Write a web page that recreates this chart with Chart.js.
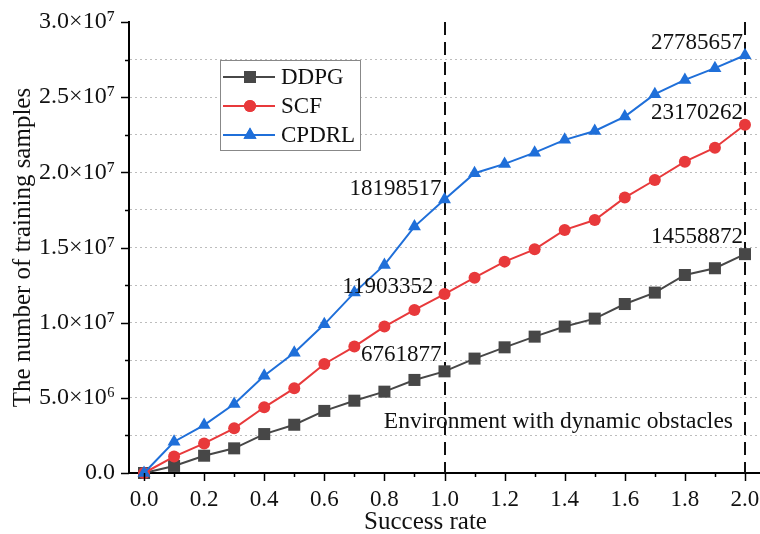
<!DOCTYPE html>
<html><head><meta charset="utf-8">
<script src="https://cdn.jsdelivr.net/npm/chart.js@4.4.0/dist/chart.umd.min.js"></script>
<style>html,body{margin:0;padding:0;background:#fff;overflow:hidden}#wrap{width:760px;height:534px;position:relative}</style>
</head><body><div id="wrap"><canvas id="c"></canvas></div>
<script>
// ---- data ----
const successRate = [0.0,0.1,0.2,0.3,0.4,0.5,0.6,0.7,0.8,0.9,1.0,1.1,1.2,1.3,1.4,1.5,1.6,1.7,1.8,1.9,2.0];
const ddpg  = [0,470000,1150000,1640000,2590000,3210000,4130000,4810000,5410000,6190000,6761877,7610000,8360000,9070000,9740000,10270000,11240000,12000000,13170000,13620000,14558872];
const scf   = [0,1090000,1970000,2970000,4370000,5630000,7250000,8410000,9740000,10850000,11903352,12990000,14060000,14880000,16170000,16830000,18320000,19490000,20710000,21640000,23170262];
const cpdrl = [0,2080000,3190000,4590000,6470000,8000000,9890000,12000000,13840000,16390000,18198517,19940000,20560000,21310000,22160000,22750000,23710000,25200000,26150000,26930000,27785657];
const seriesNames = ['DDPG','SCF','CPDRL'];
const xTickValues = [0.0,0.1,0.2,0.3,0.4,0.5,0.6,0.7,0.8,0.9,1.0,1.1,1.2,1.3,1.4,1.5,1.6,1.7,1.8,1.9,2.0];
const xMajorLabels = ['0.0','0.2','0.4','0.6','0.8','1.0','1.2','1.4','1.6','1.8','2.0'];
const yTickValues = [0,2500000,5000000,7500000,10000000,12500000,15000000,17500000,20000000,22500000,25000000,27500000,30000000];
const yMajorLabels = ['0.0','5.0×10⁶','1.0×10⁷','1.5×10⁷','2.0×10⁷','2.5×10⁷','3.0×10⁷'];
const dividerX = [1.0, 2.0];
const xTitle = 'Success rate';
const yTitle = 'The number of training samples';
const envLabel = 'Environment with dynamic obstacles';

const colors = ['#474747','#e8393b','#1f6fd9'];
const styles = ['rect','circle','triangle'];
const radii = [8.5,6,7.5];
const SERIF = '"Liberation Serif","Times New Roman",serif';

const seriesVals = [ddpg, scf, cpdrl];
const datasets = seriesVals.map((arr,i)=>({
  label: seriesNames[i],
  data: arr.map((v,j)=>({x: successRate[j], y: v})),
  borderColor: colors[i], backgroundColor: colors[i],
  pointBackgroundColor: colors[i], pointBorderColor: colors[i],
  pointStyle: styles[i], pointRadius: radii[i], pointBorderWidth: 0,
  borderWidth: 2, tension: 0, order: 3-i, clip: false
}));

const isMajorX = v => Math.round(v*10) % 2 === 0;
const isMajorY = v => Math.round(v/2500000) % 2 === 0;

const extras = {
  id: 'extras',
  beforeDatasetsDraw(chart){
    const {ctx, chartArea:a, scales:{x}} = chart;
    ctx.save();
    ctx.strokeStyle = '#111'; ctx.lineWidth = 2; ctx.setLineDash([13,7]);
    dividerX.forEach(v=>{
      const px = Math.round(x.getPixelForValue(v));
      ctx.beginPath(); ctx.moveTo(px, a.top); ctx.lineTo(px, a.bottom); ctx.stroke();
    });
    ctx.restore();
  },
  afterDatasetsDraw(chart){
    const {ctx, chartArea:a, scales:{x,y}} = chart;
    ctx.save();
    ctx.fillStyle = '#111';
    ctx.font = '23px ' + SERIF;
    ctx.textAlign = 'right'; ctx.textBaseline = 'middle';
    const last = successRate.length-1, mid = successRate.indexOf(1.0);
    const ann = [
      [cpdrl, last, -2, -12], [scf, last, -2, -12], [ddpg, last, -2, -17],
      [cpdrl, mid, -3, -10], [scf, mid, -11, -7], [ddpg, mid, -3, -16]
    ];
    ann.forEach(([arr, idx, dx, dy])=>{
      const v = arr[idx];
      ctx.fillText(String(v), x.getPixelForValue(successRate[idx])+dx, y.getPixelForValue(v)+dy);
    });
    ctx.font = '23.5px ' + SERIF;
    ctx.fillText(envLabel, x.getPixelForValue(2.0) - 12, y.getPixelForValue(3400000));
    // x-axis title (sits slightly left of the axis centre in the reference)
    ctx.textAlign = 'center';
    ctx.font = '25px ' + SERIF;
    ctx.fillText(xTitle, (a.left + a.right)/2 - 19, 522);
    // axis ticks
    ctx.strokeStyle = '#000'; ctx.lineWidth = 1.5; ctx.setLineDash([]);
    y.ticks.forEach(t=>{
      const py = Math.round(y.getPixelForValue(t.value))+0.5;
      const len = isMajorY(t.value) ? 8 : 4;
      ctx.beginPath(); ctx.moveTo(a.left, py); ctx.lineTo(a.left-len, py); ctx.stroke();
    });
    x.ticks.forEach(t=>{
      const px = Math.round(x.getPixelForValue(t.value))+0.5;
      const len = isMajorX(t.value) ? 8 : 4;
      ctx.beginPath(); ctx.moveTo(px, a.bottom); ctx.lineTo(px, a.bottom+len); ctx.stroke();
    });
    // legend
    const bx = 220, by = 60, bw = 140, bh = 90;
    ctx.fillStyle = '#fff'; ctx.fillRect(bx, by, bw, bh);
    ctx.strokeStyle = '#888'; ctx.lineWidth = 1;
    ctx.strokeRect(bx+0.5, by+0.5, bw, bh);
    ctx.font = '23px ' + SERIF; ctx.textAlign = 'left';
    chart.data.datasets.forEach((ds,i)=>{
      const ly = by + 17 + i*29;
      ctx.strokeStyle = ds.borderColor; ctx.lineWidth = 2;
      ctx.beginPath(); ctx.moveTo(bx+3, ly); ctx.lineTo(bx+55, ly); ctx.stroke();
      ctx.fillStyle = ds.backgroundColor;
      Chart.helpers.drawPoint(ctx, {pointStyle: ds.pointStyle, radius: ds.pointRadius, borderWidth: 0}, bx+30, ly);
      ctx.fill();
      ctx.fillStyle = '#111';
      ctx.fillText(ds.label, bx+61, ly+1);
    });
    ctx.restore();
  }
};

new Chart(document.getElementById('c'), {
  type: 'line',
  data: { datasets },
  plugins: [extras],
  options: {
    responsive: true, maintainAspectRatio: false, animation: false,
    layout: { autoPadding: false, padding: { top: 22, right: 0, left: 0, bottom: 0 } },
    plugins: { legend: { display: false }, tooltip: { enabled: false } },
    scales: {
      x: {
        type: 'linear', min: -0.05, max: 2.05,
        afterBuildTicks: s => { s.ticks = xTickValues.map(v=>({value:v})); },
        afterFit: s => { s.height = 61; s.paddingLeft = 0; s.paddingRight = 0; },
        grid: { display: true, drawOnChartArea: false, drawTicks: true, tickLength: 13, tickColor: 'rgba(0,0,0,0)' },
        border: { display: true, color: '#000', width: 2 },
        ticks: { autoSkip: false, maxRotation: 0, padding: 0, color: '#111',
          font: { family: SERIF, size: 23 },
          callback: (v) => isMajorX(v) ? xMajorLabels[Math.round(v*5)] : '' },
        title: { display: false, text: xTitle }
      },
      y: {
        type: 'linear', min: 0, max: 30000000,
        afterBuildTicks: s => { s.ticks = yTickValues.map(v=>({value:v})); },
        afterFit: s => { s.width = 129; s.paddingTop = 0; s.paddingBottom = 0; },
        grid: { drawTicks: true, tickLength: 14, tickColor: 'rgba(0,0,0,0)',
          color: (c)=> (c.tick && (c.tick.value===0 || c.tick.value===30000000)) ? 'rgba(0,0,0,0)' : '#bdbdbd', lineWidth: 1 },
        border: { display: true, color: '#000', width: 2, dash: [2,3] },
        ticks: { autoSkip: false, padding: 0, color: '#111',
          font: { family: SERIF, size: 24 },
          callback: (v) => isMajorY(v) ? yMajorLabels[Math.round(v/5000000)] : '' },
        title: { display: true, text: yTitle, color: '#111', font: { family: SERIF, size: 25 }, padding: { top: 8, bottom: 0 } }
      }
    }
  }
});
</script>
</body></html>
